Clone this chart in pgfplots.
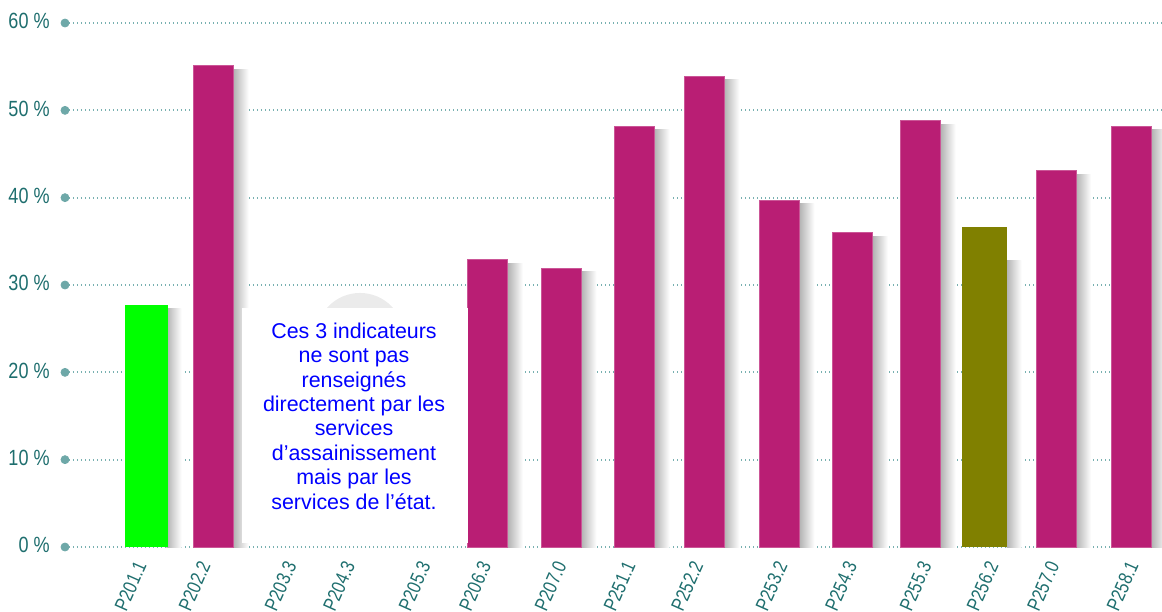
\documentclass[border=0pt]{standalone}
\usepackage{pgfplots}
\pgfplotsset{compat=1.18}
\usepackage{fontspec}
\setmainfont{Liberation Sans}
\newfontfamily\cond{Liberation Sans}[FakeStretch=0.82]
\definecolor{magbar}{RGB}{185,30,116}
\definecolor{greenbar}{RGB}{0,255,0}
\definecolor{olivebar}{RGB}{128,128,0}
\definecolor{ticktxt}{RGB}{30,110,110}
\definecolor{gridc}{RGB}{120,176,176}
\definecolor{dotc}{RGB}{110,168,168}
\pgfplotsset{shadow/.style={draw=none, left color=black!30, right color=white, bar width=7.5pt, bar shift=13.75pt, forget plot}}
\begin{document}
\begin{tikzpicture}
\begin{axis}[
  scale only axis,
  width=548.5pt, height=262pt,
  xmin=65, xmax=1162,
  ymin=0, ymax=60,
  clip=false,
  axis line style={draw=none},
  major tick length=0pt,
  ytick={0,10,20,30,40,50,60},
  yticklabels={0 \%,10 \%,20 \%,30 \%,40 \%,50 \%,60 \%},
  yticklabel style={font=\cond\fontsize{11}{12}\selectfont, text=ticktxt, anchor=east, inner sep=0pt, xshift=-7.5pt, yshift=0.8pt},
  xtick={141,205,291,349.5,425,485.6,561,630,697.7,782,851.5,926,993,1053.7,1133},
  xticklabels={P201.1,P202.2,P203.3,P204.3,P205.3,P206.3,P207.0,P251.1,P252.2,P253.2,P254.3,P255.3,P256.2,P257.0,P258.1},
  xticklabel style={font=\cond\fontsize{9.8}{11}\selectfont, text=ticktxt, yshift=-7.7pt, rotate=66, anchor=east, inner sep=0pt},
  ymajorgrids,
  grid style={color=gridc, line width=0.9pt, dash pattern=on 0.7pt off 1.3pt},
  ybar,
  bar width=20pt,
]
% shadows (one per bar)
\addplot[shadow] coordinates {(146.5,27.3)};
\addplot[shadow] coordinates {(213.5,54.7)};
\addplot[shadow] coordinates {(487.8,32.5)};
\addplot[shadow] coordinates {(561.3,31.5)};
\addplot[shadow] coordinates {(634.5,47.8)};
\addplot[shadow] coordinates {(704.3,53.5)};
\addplot[shadow] coordinates {(779.4,39.3)};
\addplot[shadow] coordinates {(852.8,35.6)};
\addplot[shadow] coordinates {(920.5,48.4)};
\addplot[shadow, bar shift=14.75pt] coordinates {(984.5,32.8)};
\addplot[shadow] coordinates {(1056,42.7)};
\addplot[shadow] coordinates {(1131.6,47.8)};
% bars
\addplot[draw=none, fill=greenbar, bar shift=0pt, bar width=21.5pt] coordinates {(146.5,27.7)};
\addplot[draw=magbar!75!white, line width=0.4pt, fill=magbar, bar shift=0pt] coordinates {
(213.5,55.1) (487.8,32.9) (561.3,31.9) (634.5,48.2) (704.3,53.9) (779.4,39.7) (852.8,36.0) (920.5,48.8) (1056,43.1) (1131.6,48.2)};
\addplot[draw=none, fill=olivebar, bar shift=0pt, bar width=22.5pt] coordinates {(984.5,36.6)};
% grid dots
\addplot[only marks, mark=*, mark size=2pt, color=dotc, forget plot] coordinates {
(65,0) (65,10) (65,20) (65,30) (65,40) (65,50) (65,60)};
% annotation
\fill[black!8] (axis cs:360,24.05) circle (22pt);
\fill[white] (axis cs:242,0.5) rectangle (axis cs:468,27.37);
\node[align=center, text=blue, font=\fontsize{10.7}{12.2}\selectfont] at (axis cs:354,15.0)
 {Ces 3 indicateurs\\ne sont pas\\renseignés\\directement par les\\services\\d’assainissement\\mais par les\\services de l’état.};
\coordinate (SW) at (rel axis cs:0,0);
\coordinate (NE) at (rel axis cs:1,1);
\end{axis}
\pgfresetboundingbox
\path[use as bounding box] ([xshift=-32.5pt,yshift=-32pt]SW) rectangle ([yshift=11.5pt]NE);
\end{tikzpicture}
\end{document}
